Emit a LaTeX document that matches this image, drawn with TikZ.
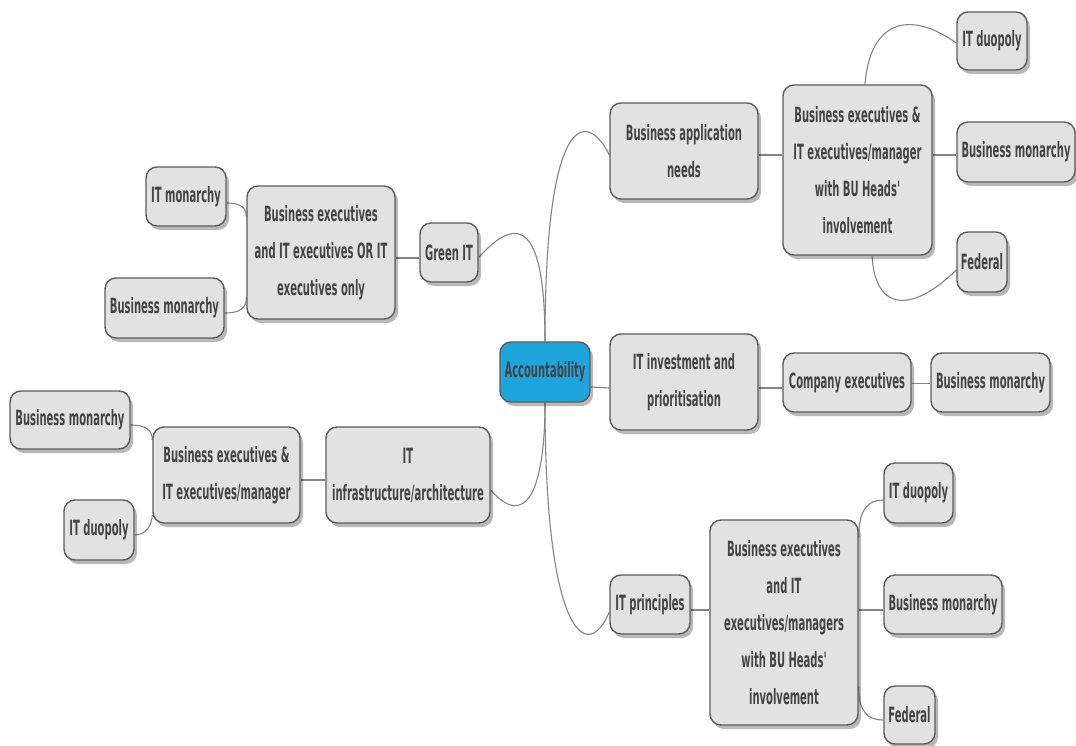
\documentclass[tikz,border=0pt]{standalone}
\usepackage{fontspec}
\newfontfamily\mmfont{DejaVu Sans Bold}[FakeStretch=0.476]
\usetikzlibrary{shadows,calc,backgrounds}
\definecolor{boxfill}{HTML}{E2E2E2}
\definecolor{boxline}{HTML}{5C5C5C}
\definecolor{boxtext}{HTML}{444444}
\definecolor{rootfill}{HTML}{1FA5DC}
\definecolor{linkcol}{HTML}{858585}
\tikzset{
  topic/.style={draw=boxline, line width=1.4pt, fill=boxfill, rounded corners=11pt,
    text=boxtext, font=\mmfont\fontsize{21}{37}\selectfont, align=center, inner sep=0pt,
    drop shadow={shadow xshift=3pt, shadow yshift=-4pt, fill=black, opacity=0.28}},
  root/.style={topic, fill=rootfill},
  link/.style={draw=linkcol, line width=1.1pt},
  sz/.style 2 args={minimum width=#1pt, minimum height=#2pt},
}
\begin{document}
\begin{tikzpicture}[x=1pt, y=-1pt]
\useasboundingbox (0,0) rectangle (1076,746);

% central topic
\node[root, sz={90}{60}] (acc) at (545,372) {Accountability};

% right-hand branches
\node[topic, sz={148}{96}] (ban) at (684,151) {Business application\\needs};
\node[topic, sz={149}{170}] (bex1) at (857.5,170) {Business executives \&\\IT executives/manager\\with BU Heads'\\involvement};
\node[topic, sz={70}{58}] (duo1) at (992,41) {IT duopoly};
\node[topic, sz={118}{60}] (mon1) at (1016,152) {Business monarchy};
\node[topic, sz={50}{60}] (fed1) at (982,262) {Federal};

\node[topic, sz={148}{96}] (inv) at (684,382) {IT investment and\\prioritisation};
\node[topic, sz={128}{59}] (com) at (847,382.5) {Company executives};
\node[topic, sz={119}{59}] (mon2) at (990.5,382.5) {Business monarchy};

\node[topic, sz={80}{59}] (pri) at (650,604.5) {IT principles};
\node[topic, sz={148}{205}] (bex2) at (784,622.5) {Business executives\\and IT\\executives/managers\\with BU Heads'\\involvement};
\node[topic, sz={69}{60}] (duo2) at (918.5,493) {IT duopoly};
\node[topic, sz={118}{59}] (mon3) at (943,604.5) {Business monarchy};
\node[topic, sz={51}{58}] (fed2) at (909.5,715) {Federal};

% left-hand branches
\node[topic, sz={58}{59}] (grn) at (449,252.5) {Green IT};
\node[topic, sz={148}{133}] (bor) at (321,252.5) {Business executives\\and IT executives OR IT\\executives only};
\node[topic, sz={80}{59}] (itm) at (186,196.5) {IT monarchy};
\node[topic, sz={119}{60}] (mon4) at (164.5,308) {Business monarchy};

\node[topic, sz={164}{96}] (inf) at (408,475) {IT\\infrastructure/architecture};
\node[topic, sz={147}{96}] (bex3) at (226.5,475) {Business executives \&\\IT executives/manager};
\node[topic, sz={120}{58}] (mon5) at (70,420) {Business monarchy};
\node[topic, sz={70}{60}] (duo3) at (99,530) {IT duopoly};

\begin{pgfonlayer}{background}
% white page
\fill[white] (0,0) rectangle (1076,746);

% from the central topic
\draw[link] (acc.north) .. controls ($(acc.north)+(0,-232)$) and ($(ban.west)+(-22,-41)$) .. ($(ban.west)+(0,4)$);
\draw[link] (acc.north) .. controls ($(acc.north)+(0,-112)$) and ($(grn.east)+(42,-42)$) .. ($(grn.east)+(0,5)$);
\draw[link] (acc.south) .. controls ($(acc.south)+(0,88)$) and ($(inf.east)+(35,55)$) .. ($(inf.east)+(0,15)$);
\draw[link] (acc.south) .. controls ($(acc.south)+(0,233)$) and ($(pri.west)+(-22,60)$) .. ($(pri.west)+(0,7.5)$);
\draw[link] ($(acc.east)+(0,15)$) -- ($(inv.west)+(0,6)$);

% business application needs
\draw[link] ($(ban.east)+(0,4)$) -- ($(bex1.west|-ban.east)+(0,4)$);
\draw[link] ($(bex1.north)+(7.5,0)$) .. controls (870,20) and (910,10) .. ($(duo1.west)+(0,2)$);
\draw[link] ($(bex1.east|-mon1.west)+(0,3)$) -- ($(mon1.west)+(0,3)$);
\draw[link] ($(bex1.south)+(14.5,0)$) .. controls (875,310) and (910,315) .. ($(fed1.west)+(0,8)$);

% IT investment and prioritisation
\draw[link] ($(inv.east)+(0,6)$) -- ($(com.west|-inv.east)+(0,6)$);
\draw[link] ($(com.east)+(0,1)$) -- ($(mon2.west|-com.east)+(0,1)$);

% IT principles
\draw[link] ($(pri.east)+(0,5.5)$) -- ($(bex2.west|-pri.east)+(0,5.5)$);
\draw[link] ($(bex2.east)+(0,-85.5)$) .. controls ($(bex2.east)+(0,-112)$) and ($(duo2.west)+(-16,7)$) .. ($(duo2.west)+(0,7)$);
\draw[link] ($(bex2.east|-mon3.west)+(0,5.5)$) -- ($(mon3.west)+(0,5.5)$);
\draw[link] ($(bex2.east)+(0,64.5)$) .. controls ($(bex2.east)+(0,89)$) and ($(fed2.west)+(-16,5)$) .. ($(fed2.west)+(0,5)$);

% Green IT
\draw[link] ($(grn.west)+(0,5.5)$) -- ($(bor.east|-grn.west)+(0,5.5)$);
\draw[link] ($(itm.east)+(0,6.5)$) .. controls ($(itm.east)+(14,6.5)$) and ($(bor.west)+(0,-45)$) .. ($(bor.west)+(0,-36)$);
\draw[link] ($(mon4.east)+(0,5)$) .. controls ($(mon4.east)+(16,5)$) and ($(bor.west)+(0,55)$) .. ($(bor.west)+(0,45)$);

% IT infrastructure/architecture
\draw[link] ($(inf.west)+(0,5)$) -- ($(bex3.east|-inf.west)+(0,5)$);
\draw[link] ($(mon5.east)+(0,5)$) .. controls ($(mon5.east)+(15,5)$) and ($(bex3.west)+(0,-45)$) .. ($(bex3.west)+(0,-35)$);
\draw[link] ($(duo3.east)+(0,5)$) .. controls ($(duo3.east)+(13,5)$) and ($(bex3.west)+(0,47)$) .. ($(bex3.west)+(0,40)$);
\end{pgfonlayer}
\end{tikzpicture}
\end{document}
